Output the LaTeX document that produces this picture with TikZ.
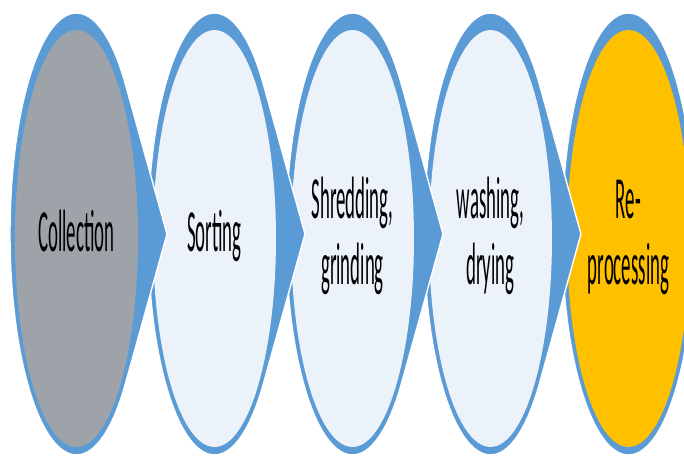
\documentclass[tikz,border=0pt]{standalone}
\usepackage{fontspec}
\setmainfont{Carlito}
\usetikzlibrary{shapes.geometric}
\definecolor{bandblue}{RGB}{91,155,213}
\definecolor{stagegray}{RGB}{158,163,169}
\definecolor{stagelight}{RGB}{236,242,250}
\definecolor{stageorange}{RGB}{255,192,0}
\newcommand{\narrowtext}[1]{\makebox[0pt]{\scalebox{0.315}[1]{\begin{tabular}{@{}c@{}}#1\end{tabular}}}}

\begin{document}
\begin{tikzpicture}[
  x=0.02cm, y=0.02cm, font=\fontsize{34}{37.5}\selectfont,
  stage/.style={ellipse, inner sep=0pt, minimum width=2.46cm, minimum height=8.34cm},
  band/.style ={fill=bandblue, draw=white, line width=0.8pt},
]
  \useasboundingbox (0,0) rectangle (684,457);
  \clip (0,0) rectangle (684,457);
  % drawn right to left: every tip lies over the next stage
  \path[band] (628.5,223) ellipse[x radius=66.5, y radius=221];
  \node[stage, fill=stageorange] (repro) at (628.5,218.5) {\narrowtext{Re-\\processing}};
  \path[band] (490.5,223) ++(42.7:66.5 and 221) arc[start angle=42.7, end angle=317.3, x radius=66.5, y radius=221] -- (581,223) -- cycle;
  \node[stage, fill=stagelight]  (wash)  at (490.5,218.5) {\narrowtext{washing,\\drying}};
  \path[band] (352.5,223) ++(42.7:66.5 and 221) arc[start angle=42.7, end angle=317.3, x radius=66.5, y radius=221] -- (443,223) -- cycle;
  \node[stage, fill=stagelight]  (shred) at (352.5,218.5) {\narrowtext{Shredding,\\grinding}};
  \path[band] (214.5,223) ++(42.7:66.5 and 221) arc[start angle=42.7, end angle=317.3, x radius=66.5, y radius=221] -- (305,223) -- cycle;
  \node[stage, fill=stagelight]  (sort)  at (214.5,218.5) {\narrowtext{Sorting}};
  \path[band] (76.5,223) ++(42.7:66.5 and 221) arc[start angle=42.7, end angle=317.3, x radius=66.5, y radius=221] -- (167,223) -- cycle;
  \node[stage, fill=stagegray]   (col)   at (76.5,218.5)  {\narrowtext{Collection}};
\end{tikzpicture}
\end{document}
